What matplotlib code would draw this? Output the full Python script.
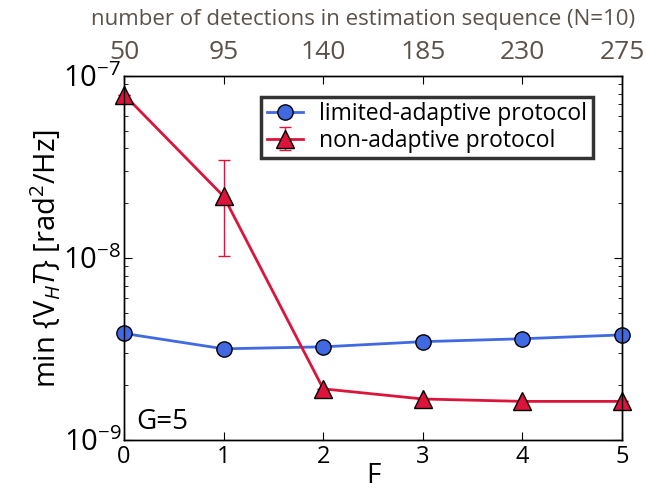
import numpy as np
import matplotlib
matplotlib.use("Agg")
import matplotlib.pyplot as plt
from matplotlib.ticker import LogLocator, NullFormatter

plt.rcParams['font.family'] = ['Open Sans', 'DejaVu Sans']
plt.rcParams['mathtext.fontset'] = 'custom'
plt.rcParams['mathtext.rm'] = 'Open Sans'
plt.rcParams['mathtext.it'] = 'Open Sans:italic'

F = [0, 1, 2, 3, 4, 5]
detections = [50, 95, 140, 185, 230, 275]
limited_adaptive = [3.85e-9, 3.17e-9, 3.25e-9, 3.47e-9, 3.6e-9, 3.78e-9]
non_adaptive = [7.9e-8, 2.18e-8, 1.91e-9, 1.68e-9, 1.63e-9, 1.63e-9]
err_lo = [0, 2.18e-8 - 1.02e-8, 0, 0, 0, 0]
err_hi = [0, 3.44e-8 - 2.18e-8, 0, 0, 0, 0]

fig = plt.figure(figsize=(6.46, 5.0), dpi=100)
ax = fig.add_axes([0.192, 0.12, 0.771, 0.728])

ax.plot(F, limited_adaptive, color='royalblue', lw=2, marker='o', ms=11,
        mfc='royalblue', mec='black', mew=1, label='limited-adaptive protocol',
        zorder=3, clip_on=False)
ax.errorbar(F, non_adaptive, yerr=[err_lo, err_hi], color='crimson', lw=2,
            marker='^', ms=13, mfc='crimson', mec='black', mew=1,
            ecolor='crimson', elinewidth=1, capsize=4,
            label='non-adaptive protocol', zorder=3, clip_on=False)

ax.set_yscale('log')
ax.set_ylim(1e-9, 1e-7)
ax.set_xlim(0, 5)
ax.set_xticks(F)
ax.yaxis.set_minor_locator(LogLocator(base=10, subs=np.arange(2, 10)))
ax.yaxis.set_minor_formatter(NullFormatter())
ax.tick_params(which='both', direction='in', top=False, right=True, labelsize=17)
ax.tick_params(axis='y', labelsize=21, pad=2)
ax.tick_params(which='major', length=6)
ax.tick_params(which='minor', length=3)

ax.set_xlabel('F', fontsize=20, labelpad=-5)
ax.set_ylabel(r'min {V$_{H}$$\mathit{T}$} [rad$^2$/Hz]', fontsize=21, labelpad=0)

ax.text(0.12, 1.15e-9, 'G=5', fontsize=20)

top = ax.twiny()
top.set_xlim(ax.get_xlim())
top.set_xticks(F)
top.set_xticklabels([str(d) for d in detections], color='#5b524c', fontsize=19)
top.tick_params(direction='in', length=6, pad=8)
fig.text(0.562, 0.962, 'number of detections in estimation sequence (N=10)',
         color='#5b524c', fontsize=16, ha='center', va='center')

leg = ax.legend(loc='upper right', bbox_to_anchor=(0.965, 0.975), fontsize=16.5,
                frameon=True, fancybox=False, handlelength=1.6,
                borderpad=0.25, labelspacing=0.1, handletextpad=0.7)
leg.get_frame().set_edgecolor('black')
leg.get_frame().set_linewidth(2.5)

for a in (ax, top):
    for s in a.spines.values():
        s.set_linewidth(1)

fig.savefig('out.png', dpi=100)
